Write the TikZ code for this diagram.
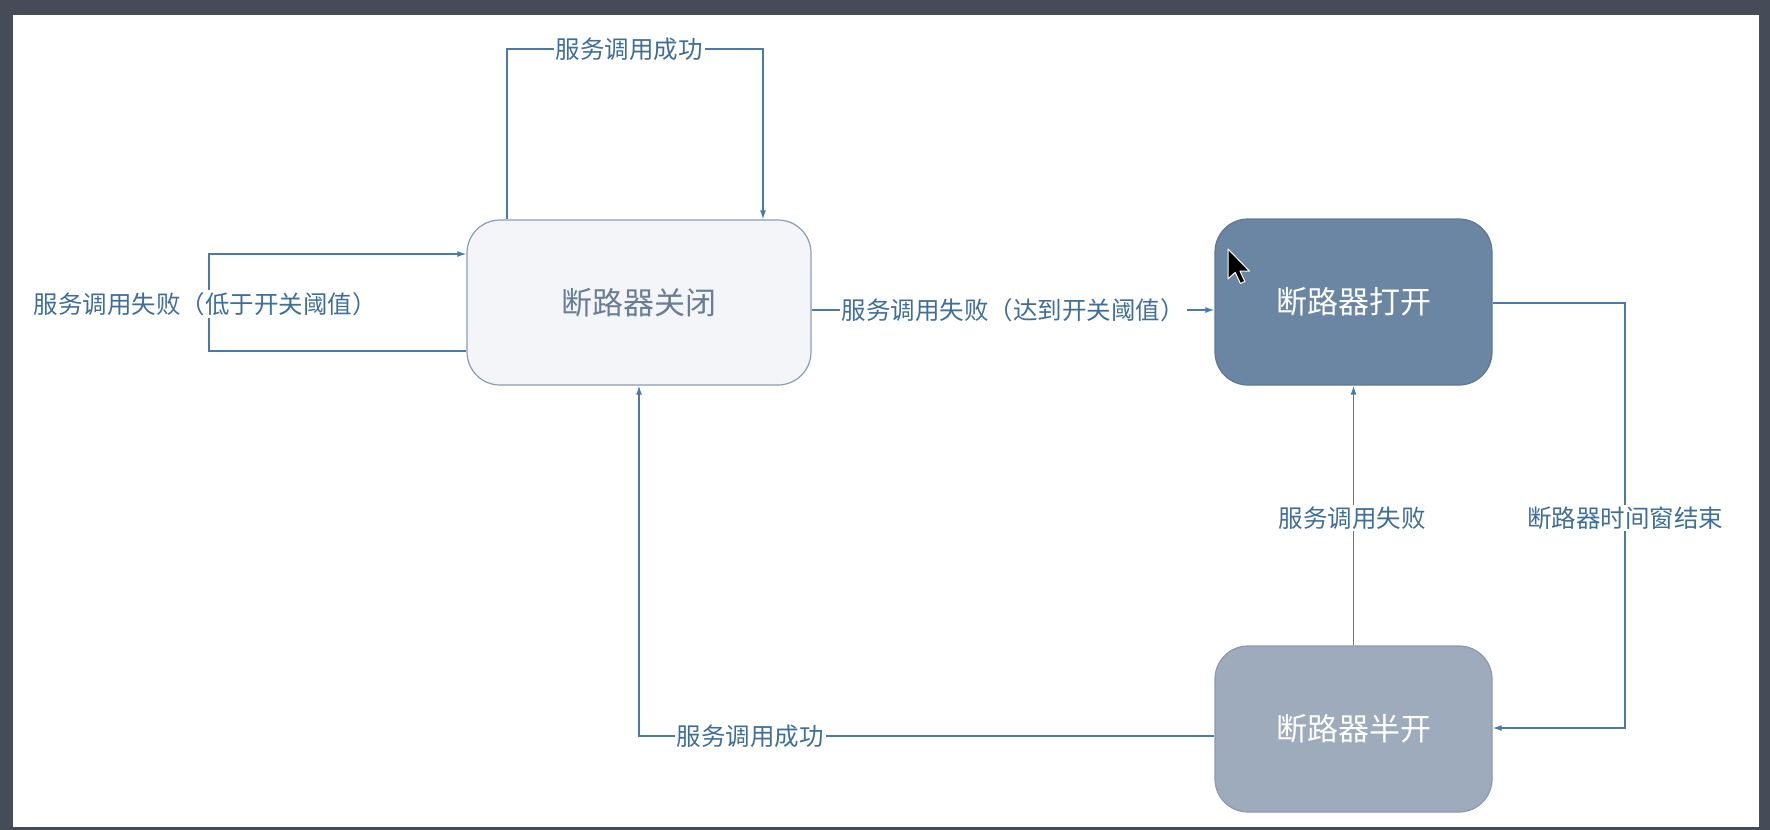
\documentclass[tikz,border=0pt]{standalone}
\usepackage{fontspec}
\newfontfamily\cjk{Noto Sans CJK SC}
\usetikzlibrary{arrows.meta,calc}
\definecolor{bgdark}{HTML}{454C58}
\definecolor{linec}{HTML}{4A7BA8}
\definecolor{labelc}{HTML}{3F6E9A}
\definecolor{closedfill}{HTML}{F3F5F8}
\definecolor{closeddraw}{HTML}{8C9DB2}
\definecolor{closedtext}{HTML}{6B7D93}
\definecolor{openfill}{HTML}{6A86A3}
\definecolor{halffill}{HTML}{9DABBD}
\tikzset{
  state/.style={rectangle, rounded corners=33pt, line width=1.2pt, font=\cjk\fontsize{31}{36}\selectfont, inner sep=0pt},
  closedstate/.style={state, fill=closedfill, draw=closeddraw, text=closedtext, minimum width=344pt, minimum height=165pt},
  openstate/.style={state, fill=openfill, draw=openfill!90!black, text=white, minimum width=277pt, minimum height=166pt},
  halfstate/.style={state, fill=halffill, draw=halffill!90!black, text=white, minimum width=277pt, minimum height=166pt},
  conn/.style={draw=linec, line width=1.4pt, -{Latex[length=9pt,width=6pt]}},
  lbl/.style={fill=white, text=labelc, font=\cjk\fontsize{24.5}{30}\selectfont, inner sep=2pt}
}
\begin{document}
\begin{tikzpicture}[x=1pt,y=-1pt]
\fill[bgdark] (0,0) rectangle (1770,830);
\fill[white] (13,15) rectangle (1759,827);
\useasboundingbox (0,0) rectangle (1770,830);

% states
\node[closedstate] (closed) at (639,302.5) {断路器关闭};
\node[openstate] (open) at (1353.5,302) {断路器打开};
\node[halfstate] (half) at (1353.5,729) {断路器半开};

% helper coordinates
\coordinate (tl) at (507,49);
\coordinate (tr) at (763,49);
\coordinate (lt) at (209,254);
\coordinate (lb) at (209,351);
\coordinate (mid) at (0,310);
\coordinate (ot) at (1625,303);
\coordinate (ob) at (1625,728);
\coordinate (hb) at (639,736);

% self loop top: success
\draw[conn] (tl |- closed.north) -- (tl) -- (tr) -- (tr |- closed.north);
\node[lbl] (l1) at (629,49) {服务调用成功};

% self loop left: failure below threshold
\draw[conn] (closed.west |- lb) -- (lb) -- (lt) -- (closed.west |- lt);
\node[lbl] (l2) at (205,304) {服务调用失败（低于开关阈值）};

% closed -> open
\draw[conn] (closed.east |- mid) -- (open.west |- mid);
\node[lbl] (l3) at (1013,310) {服务调用失败（达到开关阈值）};

% open -> half
\draw[conn] (open.east |- ot) -- (ot) -- (ob) -- (half.east |- ob);
\node[lbl] (l4) at (1625,518) {断路器时间窗结束};

% half -> open
\draw[conn] (half.north) -- (open.south);
\node[lbl] (l5) at (1352,518) {服务调用失败};

% half -> closed
\draw[conn] (half.west |- hb) -- (hb) -- (closed.south);
\node[lbl] (l6) at (750,736) {服务调用成功};

% mouse cursor
\begin{scope}[shift={(1228,249)}, scale=1.3]
\filldraw[fill=black, draw=white, line width=1pt, line join=round]
  (0,0) -- (0,23) -- (5.5,18) -- (9.5,26.5) -- (13,25) -- (9.2,17) -- (16.5,17) -- cycle;
\end{scope}
\end{tikzpicture}
\end{document}
